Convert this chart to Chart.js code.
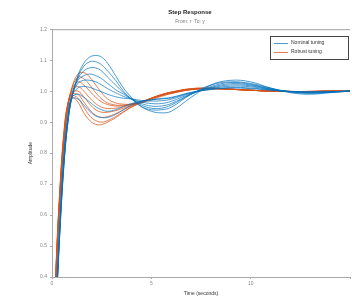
<!DOCTYPE html>
<html>
<head>
<meta charset="utf-8">
<script src="https://cdn.jsdelivr.net/npm/chart.js@4"></script>
<style>
  html, body { margin: 0; padding: 0; background: #fff; }
  #wrap { width: 352px; height: 297px; }
</style>
</head>
<body>
<div id="wrap"><canvas id="chart"></canvas></div>
<script>
// sample times (seconds)
const timeSec = [0, 0.2, 0.4, 0.6, 0.8, 1.0, 1.3, 1.6, 1.9, 2.2, 2.5, 2.8, 3.2, 3.6, 4.0, 4.5, 5.0, 5.5, 6.0, 7.0, 8.0, 9.0, 10, 11, 12, 13, 14, 15];

// nominal tuning responses (blue)
const nominal1 = [0, .28, .55, .76, .90, .98, 1.05, 1.09, 1.11, 1.115, 1.11, 1.09, 1.05, 1.01, .98, .95, .935, .93, .935, .98, 1.02, 1.035, 1.03, 1.01, .995, .99, .995, 1.0];
const nominal2 = [0, .28, .55, .76, .90, .98, 1.045, 1.08, 1.095, 1.095, 1.085, 1.065, 1.035, 1.0, .975, .95, .94, .94, .948, .99, 1.02, 1.03, 1.025, 1.01, .997, .993, .996, 1.0];
const nominal3 = [0, .29, .56, .77, .90, .98, 1.04, 1.065, 1.075, 1.075, 1.065, 1.045, 1.02, .995, .975, .955, .945, .945, .955, .99, 1.015, 1.028, 1.022, 1.008, .998, .994, .997, 1.0];
const nominal4 = [0, .29, .56, .77, .91, .985, 1.035, 1.05, 1.055, 1.05, 1.04, 1.025, 1.005, .99, .975, .96, .952, .952, .96, .99, 1.012, 1.024, 1.02, 1.007, .998, .995, .997, 1.0];
const nominal5 = [0, .30, .57, .78, .91, .985, 1.025, 1.035, 1.035, 1.03, 1.02, 1.008, .995, .983, .975, .965, .96, .96, .967, .992, 1.01, 1.02, 1.017, 1.006, .998, .996, .998, 1.0];
const nominal6 = [0, .30, .57, .78, .91, .985, 1.01, 1.015, 1.012, 1.005, .998, .99, .982, .977, .975, .97, .968, .969, .974, .994, 1.008, 1.016, 1.014, 1.005, .999, .997, .998, 1.0];
const nominal7 = [0, .30, .58, .79, .92, .98, .99, .98, .965, .95, .94, .935, .94, .95, .96, .968, .972, .975, .978, .995, 1.006, 1.012, 1.01, 1.004, .999, .997, .998, 1.0];
const nominal8 = [0, .31, .59, .80, .92, .975, .975, .955, .935, .92, .915, .915, .925, .94, .955, .965, .972, .976, .98, .996, 1.005, 1.01, 1.008, 1.003, .999, .998, .999, 1.0];

// robust tuning responses (orange)
const robust1 = [0, .40, .66, .84, .95, 1.01, 1.045, 1.04, 1.02, .995, .975, .962, .955, .955, .958, .965, .975, .985, .993, 1.005, 1.008, 1.006, 1.003, 1.0, .999, .999, 1.0, 1.0];
const robust2 = [0, .40, .66, .84, .95, 1.005, 1.03, 1.02, 1.0, .98, .965, .957, .952, .953, .958, .966, .976, .986, .994, 1.005, 1.008, 1.006, 1.003, 1.0, .999, .999, 1.0, 1.0];
const robust3 = [0, .41, .67, .85, .955, 1.0, 1.015, 1.0, .978, .96, .948, .944, .945, .95, .957, .966, .977, .987, .995, 1.006, 1.008, 1.006, 1.003, 1.0, .999, .999, 1.0, 1.0];
const robust4 = [0, .41, .67, .85, .955, .995, 1.0, .982, .958, .94, .932, .932, .937, .945, .954, .965, .977, .988, .996, 1.006, 1.008, 1.006, 1.003, 1.0, .999, .999, 1.0, 1.0];
const robust5 = [0, .42, .68, .86, .96, .99, .99, .965, .94, .922, .915, .918, .927, .94, .952, .964, .977, .988, .996, 1.007, 1.009, 1.006, 1.003, 1.0, .999, .999, 1.0, 1.0];
const robust6 = [0, .42, .68, .86, .96, .985, .978, .948, .92, .905, .90, .905, .918, .934, .949, .963, .977, .988, .997, 1.008, 1.009, 1.006, 1.003, 1.0, .999, .999, 1.0, 1.0];
const robust7 = [0, .43, .69, .87, .96, .98, .965, .93, .905, .893, .892, .90, .914, .932, .948, .963, .977, .989, .997, 1.008, 1.01, 1.006, 1.003, 1.0, .999, .999, 1.0, 1.0];
const robust8 = [0, .39, .65, .83, .945, 1.01, 1.055, 1.06, 1.045, 1.02, .995, .975, .962, .958, .958, .963, .972, .983, .992, 1.005, 1.009, 1.007, 1.003, 1.0, .999, .999, 1.0, 1.0];

const nominalRuns = [nominal1, nominal2, nominal3, nominal4, nominal5, nominal6, nominal7, nominal8];
const robustRuns = [robust1, robust2, robust3, robust4, robust5, robust6, robust7, robust8];

const xTicks = [0, 5, 10, 15];
const yTicks = [0.4, 0.5, 0.6, 0.7, 0.8, 0.9, 1.0, 1.1, 1.2];
const legendLabels = ["Nominal tuning", "Robust tuning"];

const blue = "rgba(0,114,189,0.7)";
const orange = "rgba(217,83,25,0.75)";

function toPoints(arr) {
    return timeSec.map((t, i) => ({ x: t, y: arr[i] }));
}

let datasets = [];
nominalRuns.forEach(run => {
    datasets.push({ data: toPoints(run), borderColor: blue, borderWidth: 1, pointRadius: 0, tension: 0.4, fill: false });
});
robustRuns.forEach(run => {
    datasets.push({ data: toPoints(run), borderColor: orange, borderWidth: 1, pointRadius: 0, tension: 0.4, fill: false });
});

// legend box + top frame line, MATLAB style
const boxPlugin = {
    id: "boxPlugin",
    afterDraw(chart) {
        const ctx = chart.ctx;
        const a = chart.chartArea;
        ctx.save();
        ctx.strokeStyle = "#a0a0a0";
        ctx.lineWidth = 1;
        ctx.beginPath();
        ctx.moveTo(a.left, a.top + 0.5);
        ctx.lineTo(a.right, a.top + 0.5);
        ctx.stroke();

        let bx = 270, by = 36, bw = 78, bh = 23;
        ctx.fillStyle = "#fff";
        ctx.fillRect(bx, by, bw, bh);
        ctx.strokeStyle = "#444";
        ctx.strokeRect(bx + 0.5, by + 0.5, bw, bh);

        const colors = [blue, orange];
        ctx.font = "5px 'Liberation Sans'";
        ctx.textBaseline = "middle";
        legendLabels.forEach((lbl, i) => {
            let y = by + 7 + i * 9;
            ctx.strokeStyle = colors[i];
            ctx.beginPath();
            ctx.moveTo(bx + 4, y + 0.5);
            ctx.lineTo(bx + 18, y + 0.5);
            ctx.stroke();
            ctx.fillStyle = "#333";
            ctx.fillText(lbl, bx + 21, y);
        });
        ctx.restore();
    }
};

new Chart(document.getElementById("chart"), {
    type: "line",
    data: { datasets: datasets },
    plugins: [boxPlugin],
    options: {
        responsive: true,
        maintainAspectRatio: false,
        animation: false,
        layout: { padding: { left: 28, right: 0, top: 0, bottom: 0 } },
        plugins: {
            legend: { display: false },
            tooltip: { enabled: false },
            title: {
                display: true,
                text: "Step Response",
                color: "#222",
                font: { family: "Liberation Sans", size: 6, weight: "bold" },
                padding: { top: 9, bottom: 2 }
            },
            subtitle: {
                display: true,
                text: "From: r  To: y",
                color: "#777",
                font: { family: "Liberation Sans", size: 5 },
                padding: { top: 0, bottom: 5 }
            }
        },
        scales: {
            x: {
                type: "linear",
                min: 0,
                max: 15,
                afterBuildTicks: s => { s.ticks = xTicks.map(v => ({ value: v })); },
                afterFit: s => { s.height = 20; },
                ticks: {
                    color: "#888",
                    font: { family: "Liberation Sans", size: 5 },
                    padding: 2,
                    maxRotation: 0,
                    callback: v => (v === 15 ? "" : v)
                },
                grid: { drawOnChartArea: false, tickLength: 2, color: "#aaa" },
                border: { color: "#aaa" },
                title: {
                    display: true,
                    text: "Time (seconds)",
                    color: "#333",
                    font: { family: "Liberation Sans", size: 5 },
                    padding: { top: 1, bottom: 0 }
                }
            },
            y: {
                min: 0.4,
                max: 1.2,
                afterBuildTicks: s => { s.ticks = yTicks.map(v => ({ value: v })); },
                afterFit: s => { s.width = 24; },
                ticks: {
                    color: "#888",
                    font: { family: "Liberation Sans", size: 5 },
                    padding: 3,
                    callback: v => v.toFixed(1)
                },
                grid: { drawOnChartArea: false, tickLength: 2, color: "#aaa" },
                border: { color: "#aaa" },
                title: {
                    display: true,
                    text: "Amplitude",
                    color: "#333",
                    font: { family: "Liberation Sans", size: 5 },
                    padding: { top: 0, bottom: 2 }
                }
            }
        }
    }
});
</script>
</body>
</html>
